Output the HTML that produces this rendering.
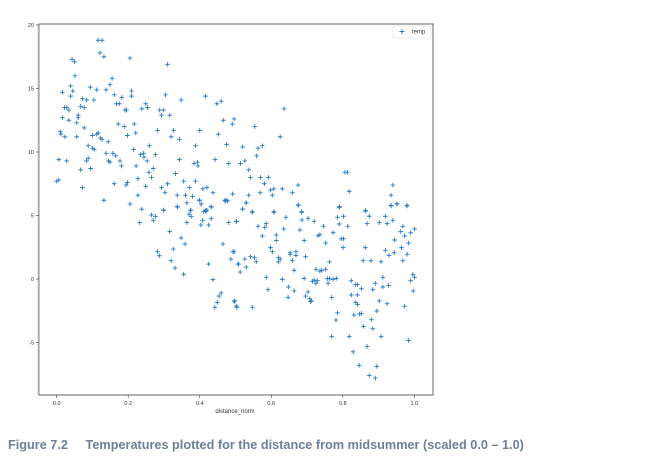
<!DOCTYPE html>
<html><head><meta charset="utf-8"><style>
body{margin:0;background:#fff;width:665px;height:468px;overflow:hidden;font-family:"Liberation Sans",sans-serif}
#cap{position:absolute;left:8px;top:438px;font-size:12.7px;font-weight:bold;color:#6d8198;white-space:pre}
</style></head><body>
<svg id="chart" width="665" height="468" style="position:absolute;left:0;top:0"></svg>
<div id="cap">Figure 7.2     Temperatures plotted for the distance from midsummer (scaled 0.0 – 1.0)</div>
<script>
const xs=[.116,.127,.121,.132,.043,.050,.205,.310,.051,.155,.149,.039,.045,.039,.016,.094,.112,.138,.209,.209,.161,.182,.304,.348,.416,.448,.460,.072,.084,.104,.167,.175,.067,.077,.022,.028,.034,.191,.195,.238,.249,.254,.288,.299,.293,.316,.016,.034,.060,.060,.056,.466,.491,.172,.189,.217,.077,.010,.012,.023,.056,.100,.112,.116,.122,.127,.144,.198,.221,.282,.327,.320,.343,.400,.452,.475,.481,.088,.100,.105,.215,.259,.388,.138,.157,.165,.145,.149,.177,.181,.234,.243,.244,.253,.276,.006,.028,.083,.088,.067,.095,.222,.258,.270,.265,.227,.343,.332,.384,.394,.395,.443,.355,.388,.371,.409,.420,.437,.492,.470,.476,.000,.006,.072,.161,.194,.198,.249,.293,.310,.303,.132,.205,.227,.238,.337,.360,.380,.399,.404,.337,.299,.374,.432,.418,.411,
.265,.276,.299,.270,.232,.338,.364,.375,.370,.376,.399,.404,.416,.420,.432,.432,.408,.403,.425,.364,.472,.477,.481,.503,.316,.348,.359,.326,.282,.287,.320,.331,.355,.425,.437,.465,.493,.487,.507,.460,.454,.449,.442,.498,.502,
.636,.496,.554,.625,.520,.563,.575,.559,.514,.526,.537,.542,.570,.592,.581,.598,.607,.631,.659,.675,.569,.537,.603,.530,.520,.547,.607,.675,.685,.806,.813,.818,.791,.864,.940,.935,.952,.935,.979,
.530,.520,.547,.502,.608,.641,.676,.685,.686,.703,.720,.635,.680,.563,.586,.582,.575,.614,.614,.692,.746,.731,.736,.752,.773,.790,.785,.790,.802,.814,.796,.802,.801,.863,.874,.868,.902,.919,.924,.940,.935,.951,.980,.968,.962,.990,1.001,.973,.945,.984,.863,.919,.944,.964,.929,.980,.968,.857,.879,.907,
.496,.509,.526,.542,.553,.558,.530,.513,.598,.603,.620,.625,.620,.653,.653,.669,.669,.659,.696,.664,.586,.631,.692,.591,.648,.664,.647,.703,.696,.708,.710,.712,.725,.736,.741,.752,.720,.729,.715,.725,.757,.759,.763,.773,.782,.763,.769,.504,.496,.547,.824,.836,.841,.852,.884,.891,.912,.912,.928,.824,.841,.836,.841,.831,.852,.847,.880,.858,.884,.895,.902,.924,.973,.997,.990,1.001,.996,.785,.781,.769,.818,.907,.868,.984,.829,.846,.874,.895,.891];
const ys=[18.8,18.8,17.8,17.5,17.3,17.1,17.4,16.9,16.0,15.8,15.3,15.2,14.8,14.4,14.7,15.1,14.9,14.9,14.8,14.4,14.5,14.3,14.5,14.1,14.4,13.8,14.0,14.2,14.1,14.1,13.8,13.8,13.6,13.5,13.5,13.5,13.3,13.3,13.3,13.4,13.8,13.5,13.3,13.3,12.9,12.9,12.7,12.5,12.9,12.7,12.3,12.5,12.2,12.2,12.0,12.2,11.9,11.6,11.4,11.2,11.2,11.3,11.4,11.5,11.1,11.0,10.8,11.3,11.5,11.7,11.7,11.2,11.0,11.7,11.4,10.6,9.1,10.5,10.3,10.2,10.2,10.5,10.5,9.9,9.9,9.7,9.3,9.2,9.3,8.9,9.8,9.9,9.6,9.3,9.8,9.4,9.3,9.3,9.5,8.6,8.7,8.9,8.4,8.7,8.0,7.9,9.4,8.3,9.1,9.2,8.9,9.4,7.7,7.7,7.2,7.1,7.2,6.8,6.7,6.2,6.2,7.7,7.8,7.2,7.5,7.4,7.6,7.3,7.2,7.5,6.8,6.2,5.9,6.6,5.5,6.6,6.6,6.5,6.2,5.9,5.7,5.4,5.4,5.7,5.4,5.3,
5.04,4.93,5.43,4.62,4.44,5.67,6.0,5.43,5.1,4.93,6.2,5.9,5.35,5.43,5.67,4.75,4.62,4.25,4.25,4.44,6.14,6.14,4.44,4.54,3.73,3.23,2.76,2.36,2.15,1.83,1.44,0.87,0.37,1.18,-0.05,2.76,2.15,1.57,1.18,-1.1,-1.34,-1.84,-2.23,-1.71,-2.13,
13.4,12.6,12.0,11.2,10.4,10.3,10.5,9.7,9.1,9.3,8.6,8.0,8.0,8.0,7.5,7.0,7.1,7.1,6.8,7.4,6.8,6.6,6.6,6.0,5.5,5.3,5.3,5.8,5.3,8.4,8.4,6.9,5.7,5.4,7.4,6.6,5.9,5.8,5.8,
6.0,5.51,5.25,4.52,5.25,4.86,5.83,5.25,4.65,4.78,4.54,3.94,3.86,4.15,4.36,4.07,3.39,3.46,3.04,3.04,4.15,3.41,3.49,2.83,3.65,4.33,4.86,5.64,4.94,4.15,3.17,3.17,2.47,5.35,4.94,4.36,4.44,4.94,4.36,4.62,5.75,5.93,5.75,4.15,3.73,3.65,3.94,3.39,3.07,2.83,2.47,2.26,2.07,2.47,1.86,1.94,1.44,1.44,1.44,1.36,
2.15,1.18,1.57,1.76,1.68,1.36,0.94,0.55,2.47,2.15,1.68,1.57,1.34,2.07,1.94,2.15,1.86,1.44,1.76,0.68,0.13,-0.03,0.05,-0.84,-0.63,-0.94,-1.45,-1.02,-1.34,-1.55,-1.78,-1.73,0.76,0.63,0.68,0.76,-0.08,-0.13,-0.18,-0.34,0.03,-0.34,0.03,-0.03,0.05,1.34,-1.45,-2.23,-1.79,-2.23,-0.13,-0.44,-0.44,-0.76,-0.84,-0.34,0.13,-0.63,-0.52,-1.26,-1.26,-1.84,-2.0,-2.84,-2.71,-2.76,-3.2,-3.73,-3.91,-2.52,-1.73,-1.94,-2.15,-0.94,-0.13,0.13,0.37,-2.66,-3.23,-4.52,-4.52,-4.52,-5.31,-4.84,-5.73,-6.8,-7.6,-6.88,-7.8];
const xTicks=[0.0,0.2,0.4,0.6,0.8,1.0];
const yTicks=[20,15,10,5,0,-5];
const NS="http://www.w3.org/2000/svg";
const svg=document.getElementById('chart');
const L=39,T=24,R=433,B=395;
const sx=v=>56.7+v*357.6;
const sy=v=>279-v*12.7;
function mk(t,a){const e=document.createElementNS(NS,t);for(const k in a)e.setAttribute(k,a[k]);svg.appendChild(e);return e;}
const frame=mk('rect',{x:L,y:T,width:R-L,height:B-T,fill:'none',stroke:'#666','stroke-width':1});


mk('line',{x1:L-0.5,y1:T,x2:L-0.5,y2:B,stroke:'#aaa','stroke-width':1.5});
xTicks.forEach(v=>{
  const x=sx(v);
  mk('line',{x1:x,y1:B,x2:x,y2:B+3,stroke:'#444','stroke-width':0.6});
  const t=mk('text',{x:x,y:B+10,'font-size':5.5,'text-anchor':'middle',fill:'#333'});
  t.textContent=v.toFixed(1);
  
  
});
yTicks.forEach(v=>{
  const y=sy(v);
  mk('line',{x1:L-3,y1:y,x2:L,y2:y,stroke:'#444','stroke-width':0.6});
  const t=mk('text',{x:L-5,y:y+2,'font-size':5.5,'text-anchor':'end',fill:'#333'});
  t.textContent=String(v);
  
  
});
const xl=mk('text',{x:235,y:413,'font-size':6,'text-anchor':'middle',fill:'#333'});
xl.textContent='distance_norm';


for(let i=0;i<xs.length;i++){
  const x=sx(xs[i]),y=sy(ys[i]);
  const p=mk('path',{d:`M${x-2.3},${y}H${x+2.3}M${x},${y-2.3}V${y+2.3}`,stroke:'#2a7bbf','stroke-width':0.9});
  
  
}
const lg=mk('rect',{x:393,y:26,width:38,height:12,fill:'#fff',stroke:'#ddd','stroke-width':0.6,rx:1.5});


mk('path',{d:'M399.5,31.5H404.5M402,29V34',stroke:'#2a7bbf','stroke-width':0.9});
const lt=mk('text',{x:412,y:33.5,'font-size':6,fill:'#333'});
lt.textContent='temp';


</script>
</body></html>
